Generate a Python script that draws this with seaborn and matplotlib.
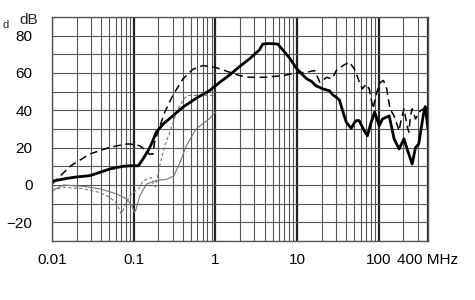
import numpy as np
import pandas as pd
import matplotlib
matplotlib.use("Agg")
import matplotlib.pyplot as plt
import seaborn as sns
from matplotlib.ticker import FixedLocator, NullFormatter

# ---- data (frequency in MHz, level in dB) ----
main_f = [0.01, 0.015, 0.02, 0.029, 0.04, 0.051, 0.074, 0.09, 0.114, 0.13, 0.15,
          0.165, 0.19, 0.23, 0.30, 0.40, 0.585, 0.85, 1.13, 1.5, 1.98, 2.62, 3.47,
          3.8, 4.5, 5.8, 7.4, 8.1, 9.8, 13, 15, 17.2, 18.5, 20.6, 24.9, 27, 30.2, 33,
          36.5, 40, 45.9, 50.5, 53, 57.5, 66.4, 72.6, 79.4, 89, 101, 111, 134, 154,
          177, 203, 222, 256, 281, 308, 352, 370, 385, 400]
main_db = [2, 3.5, 4.3, 5, 7, 8.6, 10, 10.3, 10.3, 14, 18.4,
           22, 28.5, 32.7, 37, 41.7, 46.5, 50.6, 55, 59, 63.5, 67.6, 72.5,
           75.5, 75.8, 75.5, 70, 68, 62.5, 57, 55.5, 53, 52.5, 51.5, 50.5, 48.5, 47, 45.5,
           39, 33.6, 30.4, 33.5, 34.5, 34.5, 29, 26.4, 32.7, 39, 31.8, 35.4, 37, 24.7,
           19.3, 24.7, 19.3, 11.3, 20, 22, 38, 42, 36, 30]

dash_f = [0.01, 0.012, 0.017, 0.029, 0.051, 0.082, 0.09, 0.119, 0.143, 0.155, 0.172,
          0.18, 0.21, 0.24, 0.30, 0.40, 0.53, 0.70, 1.0, 1.5, 1.98, 2.62, 4, 6.7,
          9.8, 13, 16.4, 19, 20.6, 22.9, 26.6, 30.2, 36.5, 43.6, 50.5, 57.5, 63,
          69.4, 76.3, 85, 88.5, 95, 104.4, 114, 125, 137, 154, 169, 177, 185, 203,
          222, 233, 244, 256, 281, 324, 352, 390, 400]
dash_db = [0.5, 4, 10.3, 16.6, 20.2, 22, 22, 21, 18.4, 16.5, 16.6,
           23, 31.8, 39, 47.9, 56.8, 62, 64, 63, 60.4, 58.6, 57.7, 57.7, 58.6,
           60, 60.4, 61.3, 55, 56, 57.7, 56.8, 61.3, 64, 65.8, 62, 55.5, 51.5,
           54, 51.5, 40.8, 44.5, 50, 55, 56, 51.5, 40.8, 37, 31.8, 29, 33.6, 40.8,
           31.8, 28.3, 37, 40.8, 35.4, 39.8, 40.8, 42.5, 40]

thin_dash_f = [0.01, 0.0138, 0.024, 0.0385, 0.051, 0.062, 0.0705, 0.072, 0.078, 0.09,
               0.119, 0.13, 0.165, 0.175, 0.185, 0.21, 0.24, 0.28, 0.33, 0.37, 0.42,
               0.46, 0.95]
thin_dash_db = [-3, -1.2, -2, -4, -6.6, -10, -15.5, -15, -11, -5.7,
                -1.2, 2.3, 4, 0, -1, 11, 21, 29, 38, 43, 46.5, 48, 48]

thin_f = [0.01, 0.0138, 0.024, 0.0385, 0.062, 0.082, 0.095, 0.102, 0.106, 0.119,
          0.143, 0.19, 0.26, 0.31, 0.37, 0.44, 0.58, 0.84, 1.0]
thin_db = [-3, 0, -0.7, -2, -4.8, -7.5, -11, -14.8, -13.5, -5.7,
           0.5, 2.3, 3.2, 5, 12.2, 21, 30, 35.4, 39]

x_ticks = [0.01, 0.1, 1, 10, 100, 400]
x_labels = ["0.01", "0.1", "1", "10", "100", "400 MHz"]
y_ticks = [-20, 0, 20, 40, 60, 80]

sns.set_style("white")
plt.rcParams["font.family"] = ["Liberation Sans", "DejaVu Sans"]

fig = plt.figure(figsize=(4.75, 3.0), dpi=100)
ax = fig.add_axes([52 / 475, 1 - 241 / 300, (428 - 52) / 475, (241 - 17) / 300])

sns.lineplot(x=thin_f, y=thin_db, ax=ax, color="#777777", linewidth=0.8,
             estimator=None, sort=False)
sns.lineplot(x=thin_dash_f, y=thin_dash_db, ax=ax, color="#777777", linewidth=0.8,
             linestyle=(0, (3, 2)), estimator=None, sort=False)
sns.lineplot(x=dash_f, y=dash_db, ax=ax, color="black", linewidth=1.1,
             linestyle=(0, (5, 3)), estimator=None, sort=False)
sns.lineplot(x=main_f, y=main_db, ax=ax, color="black", linewidth=2.0,
             estimator=None, sort=False)

ax.set_xscale("log")
ax.set_xlim(0.01, 400)
ax.set_ylim(-30, 90)

minor_x = [m * 10.0 ** e for e in range(-2, 3) for m in range(2, 10) if m * 10.0 ** e < 400]
ax.xaxis.set_major_locator(FixedLocator(x_ticks))
ax.xaxis.set_minor_locator(FixedLocator(minor_x))
ax.set_xticklabels(x_labels)
ax.xaxis.set_minor_formatter(NullFormatter())
ax.yaxis.set_major_locator(FixedLocator(y_ticks))
ax.yaxis.set_minor_locator(FixedLocator(list(range(-30, 91, 10))))

ax.grid(which="minor", axis="x", color="#555555", linewidth=0.8)
ax.grid(which="major", axis="x", color="#222222", linewidth=1.6)
ax.grid(which="minor", axis="y", color="#555555", linewidth=0.8)
ax.grid(which="major", axis="y", color="#555555", linewidth=0.8)
ax.set_axisbelow(True)

ax.tick_params(which="both", length=0, labelsize=11, colors="black")
ax.tick_params(axis="x", pad=9)
ax.tick_params(axis="y", pad=14)
for s in ax.spines.values():
    s.set_color("#555555")
    s.set_linewidth(1.0)
ax.set_xlabel("")
ax.set_ylabel("")

fig.text(38 / 475, 1 - 20 / 300, "dB", ha="right", va="center", fontsize=11)
fig.text(6 / 475, 1 - 25 / 300, "d", ha="center", va="center", fontsize=8)

fig.savefig("out.png", dpi=100)
